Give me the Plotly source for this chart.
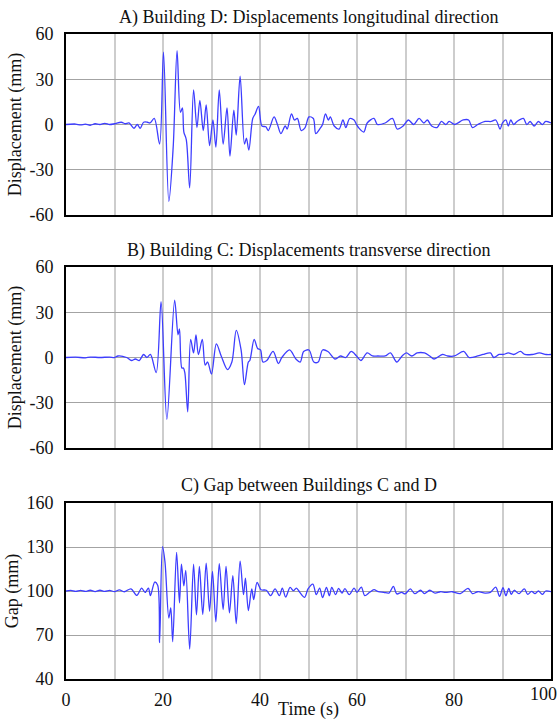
import plotly.graph_objects as go

# ---------------- data ----------------
t_A = [0, 2, 3, 4, 5, 6, 7, 8, 9, 10, 11.4, 12.2, 13, 14, 14.7, 15.3, 16, 16.8, 17.3, 18.2,
       19.3, 20.1, 21.2, 22.1, 22.9, 23.6, 24, 24.3, 24.8, 25.5, 26.3, 27, 27.6, 28.3, 28.9,
       29.6, 30.3, 30.9, 31.6, 32.4, 33.2, 33.8, 34.6, 35.1, 35.9, 36.8, 37.2, 37.7, 38.5,
       39, 39.7, 40.4, 41.2, 41.7, 42.9, 43.6, 44.3, 45.2, 45.6, 46.5, 47.1, 47.7, 48.5,
       49.3, 50.1, 51, 51.5, 52.3, 52.9, 53.5, 54.1, 54.5, 55.3, 56.3, 57.1, 57.7, 58.5,
       59.4, 59.9, 60.3, 61.4, 62.1, 63.5, 64.2, 65.8, 67.3, 68.3, 69.5, 70.6, 71.7, 72.8,
       73.8, 74.5, 75.4, 76.5, 77.4, 78.3, 79, 80.1, 81.9, 83, 83.8, 84.9, 86.4, 87.7, 88.6,
       89.5, 90, 90.7, 91.2, 91.7, 92.3, 93, 94.3, 95, 95.7, 96.5, 97.4, 98.2, 98.9, 100]
d_A = [0, 0.3, -0.3, 0.2, -0.5, 0.5, 0, 0.8, 0, 0.5, 1.5, 0.5, 1, -2.5, 0, -2.5, 1.5, 1.5, 1, 4,
       -13, 48, -51, -15, 49, 8, 11, -5, -10, -42, 23, -2, 16, -4, 13,
       -14, 3, -15, 23, -13, 11, -21, 9.5, -7, 32, -13, -9, -17, 4,
       7, 12, -1, -1.5, -4, 5, 0, -6, -1, -3, 7, 3, 4, -4,
       -2, 5, 4, -6, -3, 0, 7, 3, 5, -1, -3, 3, -2, 4,
       3, 0, -2, -5, 1, 4, 0, 1, 4, -3, -1, 3, 0, 4,
       1, 3, -1, -2, 2, 0, 2, 0, 3, 3, -2, 0, 2, 2, 3,
       -3, 1, 3, -1, 3, 0, 2, 4, 0, 2, -1, 2, 0, 2, 1]

t_B = [0, 2, 4, 5, 7, 9, 10, 10.7, 12.5, 13.5, 14.3, 15.1, 16, 16.7, 17.4, 18.6, 19.6, 20.8,
       22.4, 23.1, 23.4, 23.9, 24.2, 24.5, 25.1, 25.7, 26.3, 26.8, 27.3, 28.1, 28.7, 29.2,
       30, 31, 32, 33.3, 34.2, 35.1, 36.1, 36.8, 37.6, 37.9, 38.8, 39.5, 40.1, 40.6, 41.4,
       42.7, 43.8, 44.5, 46.1, 47.4, 48.3, 49, 50.1, 51.1, 52, 52.9, 54, 55.5, 56.6, 57.7,
       58.8, 59.9, 60.8, 62.1, 63.2, 64.3, 65.8, 66.9, 68.2, 69.3, 70.2, 71.3, 72.4, 73.9,
       75, 75.9, 77.6, 78.7, 80.1, 82, 83.1, 84.9, 86, 87.5, 88.2, 89.3, 90.2, 91.2, 92.3,
       93.7, 94.6, 96.1, 97.6, 99, 100]
d_B = [0, 0.2, -0.2, 0.3, 0, 0.3, 0, 1, 0, -2, -1, -2, 2, 0, 2, -10, 37, -41,
       38, 15, 19, -7, -7, -10, -36, 12, 3, 15, 2, 12, -5, -3,
       -11, 9, 1, -8, -3, 18, 5, -18, -3, -2, 12, 6, 5, -3, -2,
       4, -4, 0, 5, -1, -3, 4, 5, -3, -3, 5, 4, -1, 1, 0,
       4, 1, -2, 3, 1, 1, 1, 3, -3, 1, 3, 1, 3, 3,
       1, -1, 2, 1, 1, 4, 0, 1, 2, 3, 0, 2, 2, 3, 2,
       4, 2, 2, 3, 2, 2]

t_C = [0, 1, 2, 3, 4, 5, 6, 7, 8, 9, 10, 11, 12, 13.4, 14.6, 15.6, 16.3, 17, 17.4, 18.3,
       18.9, 19.3, 19.9, 20.4, 21.2, 21.6, 22.0, 22.8, 23.4, 23.8, 24.3, 24.7, 25.5, 26.3,
       26.9, 27.5, 28.2, 28.9, 29.6, 30.2, 30.9, 31.6, 32.4, 33, 33.7, 34.4, 35.1, 35.9,
       36.6, 37, 37.6, 38.3, 38.7, 39.4, 40.2, 41.3, 42.2, 43.1, 44, 44.6, 45.3, 46.2,
       46.9, 47.5, 48.2, 49.2, 49.9, 50.9, 51.6, 52.3, 52.9, 53.7, 54.3, 54.8, 55.6, 56.2,
       56.9, 57.5, 58.4, 59.4, 60, 60.9, 61.6, 62.6, 63.5, 64.4, 65.5, 66.6, 67.5, 68.2,
       69.2, 69.9, 71, 71.9, 73.1, 73.9, 75, 76.1, 77.2, 78.3, 79.6, 81.3, 82.9, 83.8,
       84.9, 86.4, 87.5, 88.6, 89.4, 90.1, 90.7, 91.3, 91.8, 92.4, 93.4, 94.5, 95.2, 96,
       96.7, 97.4, 98.2, 98.9, 100]
g_C = [100, 100.4, 99.7, 100.4, 99.7, 100.5, 99.6, 100.5, 99.7, 100.4, 99.6, 100.8, 99.5, 101.5, 97, 102, 99, 102, 96.8, 106.1,
       104, 64.8, 130.2, 120, 81.6, 88.4, 65.4, 126.4, 91.9, 118.3, 103.5, 114, 60.4, 118.3,
       83.7, 116.7, 84, 119, 86.2, 113.3, 79, 118.7, 87.4, 116.7, 85.1, 110.4, 77.7, 120.3,
       97.5, 108.8, 86.7, 101.4, 94.1, 105.9, 100.9, 100.5, 96.8, 101.4, 96.8, 102, 95.9, 102.5,
       100.2, 102, 99.1, 95.7, 101.4, 104.7, 97.5, 102, 95.5, 102.5, 96.8, 102.5, 97.5, 101.8,
       98.6, 101.6, 97.5, 102, 99.1, 102.7, 96.8, 99.1, 100.9, 99.5, 99.1, 98.6, 103.2, 98,
       99.1, 98, 101.4, 98.2, 100.5, 98.2, 100.5, 98.6, 99.5, 99.1, 99.5, 98.2, 101.8, 98.2,
       99.5, 98.6, 99.1, 102.7, 96.4, 102.3, 96.8, 101.8, 97.7, 100.5, 98.2, 101.4, 97.7, 99.8,
       98.2, 100, 97.7, 100, 99.5]

titles = ["A) Building D: Displacements longitudinal direction",
          "B) Building C: Displacements transverse direction",
          "C) Gap between Buildings C and D"]
y_titles = ["Displacement (mm)", "Displacement (mm)", "Gap (mm)"]
x_title = "Time (s)"

disp_ticks = [-60, -30, 0, 30, 60]
disp_labels = ["-60", "-30", "0", "30", "60"]
gap_ticks = [40, 70, 100, 130, 160]
gap_labels = ["40", "70", "100", "130", "160"]
time_ticks = [0, 10, 20, 30, 40, 50, 60, 70, 80, 90]
time_labels = ["0", "", "20", "", "40", "", "60", "", "80", ""]
time_last_label = "100"

# ---------------- figure ----------------
FONT = "Liberation Serif, Times New Roman, serif"
FS = 18
TXT = "#111"
LINE = "#3d3dff"
W, H = 560, 720
ML, MR, MT, MB = 66, 9, 34, 41
ph = H - MT - MB

def pfy(px):
    return 1 - (px - MT) / ph

domains = [(pfy(215), pfy(34)), (pfy(448), pfy(267)), (pfy(679), pfy(503))]

fig = go.Figure()
series = [(t_A, d_A), (t_B, d_B), (t_C, g_C)]
for i, (tx, vy) in enumerate(series):
    sfx = "" if i == 0 else str(i + 1)
    fig.add_trace(go.Scatter(x=tx, y=vy, mode="lines", xaxis="x" + sfx, yaxis="y" + sfx,
                             line=dict(color=LINE, width=1.3, shape="spline", smoothing=0.9),
                             showlegend=False, hoverinfo="skip"))

common_x = dict(range=[0, 100], tickvals=time_ticks, ticktext=time_labels, showgrid=True,
                gridcolor="#cdcdcd", gridwidth=1.5, zeroline=False, showline=True, mirror=True,
                linecolor="black", linewidth=2, ticks="", automargin=False,
                tickfont=dict(family=FONT, size=FS, color=TXT))
common_y = dict(showgrid=True, gridcolor="#a3a3a3", gridwidth=1.3, zeroline=False,
                showline=True, mirror=True, linecolor="black", linewidth=2, ticks="",
                automargin=False, ticklabelstandoff=7,
                tickfont=dict(family=FONT, size=FS, color=TXT))

layout = dict(width=W, height=H, margin=dict(l=ML, r=MR, t=MT, b=MB),
              paper_bgcolor="white", plot_bgcolor="white",
              font=dict(family=FONT, size=FS, color=TXT))
for i in range(3):
    sfx = "" if i == 0 else str(i + 1)
    xa = dict(common_x, anchor="y" + sfx, domain=[0, 1], showticklabels=(i == 2))
    if i == 2:
        xa["title"] = dict(text=x_title, font=dict(family=FONT, size=FS, color=TXT), standoff=0)
        xa["ticklabelstandoff"] = 3
    if i > 0:
        xa["matches"] = "x"
    ya = dict(common_y, anchor="x" + sfx, domain=list(domains[i]))
    if i < 2:
        ya.update(range=[-60, 60], tickvals=disp_ticks, ticktext=disp_labels)
    else:
        ya.update(range=[40, 160], tickvals=gap_ticks, ticktext=gap_labels)
    ya["title"] = dict(text=y_titles[i], font=dict(family=FONT, size=FS, color=TXT), standoff=3)
    layout["xaxis" + sfx] = xa
    layout["yaxis" + sfx] = ya

fig.update_layout(**layout)

title_px = [17, 250, 485]
for i in range(3):
    fig.add_annotation(text=titles[i], xref="paper", yref="paper", x=0.5, y=pfy(title_px[i]),
                       xanchor="center", yanchor="middle", showarrow=False,
                       font=dict(family=FONT, size=FS, color=TXT))

fig.add_annotation(text=time_last_label, xref="x3", yref="paper", x=100, y=pfy(679),
                   xanchor="right", yanchor="top", xshift=8, yshift=-3, showarrow=False,
                   font=dict(family=FONT, size=FS, color=TXT))

fig.write_html("out.html")
